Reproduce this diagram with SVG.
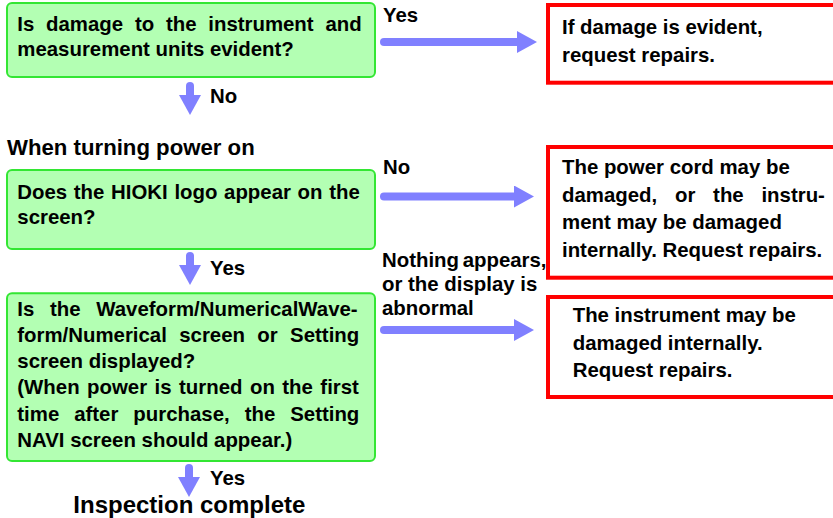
<svg xmlns="http://www.w3.org/2000/svg" width="833" height="518" viewBox="0 0 833 518">
<style>
.t{font-family:"Liberation Sans",Arial,sans-serif;font-weight:bold;font-size:20.4px;fill:#000}
.h{font-size:22.2px}
.big{font-size:24px}
.q{fill:#b3ffb3;stroke:#33e633;stroke-width:2}
.r{fill:#fff;stroke:#ff0000;stroke-width:4}
.a{stroke:#8080ff;stroke-width:8;stroke-linecap:round;fill:none}
</style>
<defs>
<marker id="ah" markerUnits="userSpaceOnUse" markerWidth="20" markerHeight="22" viewBox="0 0 20 22" refX="0" refY="11" orient="auto"><path d="M0,0L20,11L0,22z" fill="#8080ff"/></marker>
</defs>
<rect width="833" height="518" fill="#fff"/>
<g id="q1">
<rect class="q" x="7" y="3" width="368" height="74" rx="5"/>
<text class="t" x="17.3" y="30.5" word-spacing="6.1">Is damage to the instrument and</text>
<text class="t" x="17.3" y="55.5">measurement units evident?</text>
</g>
<g id="r1">
<rect class="r" x="548" y="5" width="300" height="77.7"/>
<text class="t" x="562" y="34">If damage is evident,</text>
<text class="t" x="562" y="61.5">request repairs.</text>
</g>
<text id="heading" class="t h" x="7" y="155">When turning power on</text>
<g id="q2">
<rect class="q" x="7" y="170" width="368" height="79" rx="5"/>
<text class="t" x="17.3" y="199" word-spacing="1">Does the HIOKI logo appear on the</text>
<text class="t" x="17.3" y="223.5">screen?</text>
</g>
<g id="r2">
<rect class="r" x="548" y="147" width="300" height="130.7"/>
<text class="t" x="562" y="174">The power cord may be</text>
<text class="t" x="562" y="201.7" word-spacing="12.1">damaged, or the instru-</text>
<text class="t" x="562" y="229.4">ment may be damaged</text>
<text class="t" x="562" y="257">internally. Request repairs.</text>
</g>
<g id="q3">
<rect class="q" x="7" y="293.3" width="368" height="167.7" rx="5"/>
<text class="t" x="17.3" y="315.7" word-spacing="10">Is the Waveform/NumericalWave-</text>
<text class="t" x="17.3" y="341.9" word-spacing="6.7">form/Numerical screen or Setting</text>
<text class="t" x="17.3" y="368.1">screen displayed?</text>
<text class="t" x="17.3" y="394.3" word-spacing="1.8">(When power is turned on the first</text>
<text class="t" x="17.3" y="420.5" word-spacing="9.3">time after purchase, the Setting</text>
<text class="t" x="17.3" y="446.7">NAVI screen should appear.)</text>
</g>
<g id="r3">
<rect class="r" x="548" y="297" width="300" height="100"/>
<text class="t" x="572.7" y="322.3">The instrument may be</text>
<text class="t" x="572.7" y="349.8">damaged internally.</text>
<text class="t" x="572.7" y="377.3">Request repairs.</text>
</g>
<text id="done" class="t big" x="73.3" y="513">Inspection complete</text>
<g id="connectors">
<line class="a" x1="384" y1="42" x2="517" y2="42" marker-end="url(#ah)"/>
<text class="t" x="383" y="22">Yes</text>
<line class="a" x1="190" y1="86" x2="190" y2="95" marker-end="url(#ah)"/>
<text class="t" x="210" y="103">No</text>
<line class="a" x1="384" y1="196.5" x2="514" y2="196.5" marker-end="url(#ah)"/>
<text class="t" x="383" y="173.5">No</text>
<line class="a" x1="190" y1="256" x2="190" y2="265" marker-end="url(#ah)"/>
<text class="t" x="210" y="275">Yes</text>
<line class="a" x1="384" y1="330" x2="514" y2="330" marker-end="url(#ah)"/>
<text class="t" x="382" y="266.7" word-spacing="-2">Nothing appears,</text>
<text class="t" x="382" y="290.5">or the display is</text>
<text class="t" x="382" y="315">abnormal</text>
<line class="a" x1="189" y1="468" x2="189" y2="477" marker-end="url(#ah)"/>
<text class="t" x="210" y="485">Yes</text>
</g>
</svg>
